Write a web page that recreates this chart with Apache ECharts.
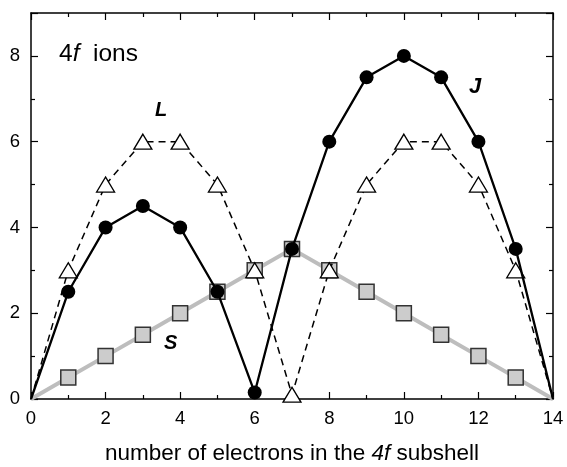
<!DOCTYPE html>
<html><head><meta charset="utf-8">
<script src="https://cdn.jsdelivr.net/npm/echarts@6/dist/echarts.min.js"></script>
<style>html,body{margin:0;padding:0;background:#fff}#c{width:567px;height:467px}</style>
</head><body><div id="c"></div>
<script>
var nElectrons = [0,1,2,3,4,5,6,7,8,9,10,11,12,13,14];
var valuesS = [0,0.5,1,1.5,2,2.5,3,3.5,3,2.5,2,1.5,1,0.5,0];
var valuesL = [0,3,5,6,6,5,3,0.1,3,5,6,6,5,3,0];
var valuesJ = [0,2.5,4,4.5,4,2.5,0.15,3.5,6,7.5,8,7.5,6,3.5,0];
var xTicks = [0,2,4,6,8,10,12,14];
var yTicks = [0,2,4,6,8];

function pts(vals){
  return nElectrons.map(function(x,i){
    var endpoint = (i===0 || i===nElectrons.length-1);
    var d = {value:[x, vals[i]]};
    if (endpoint) d.symbol = 'none';
    return d;
  });
}
var FONT = 'Liberation Sans, Arial, sans-serif';
var chart = echarts.init(document.getElementById('c'), null, {renderer:'canvas'});
var axisLine = {show:true, onZero:false, lineStyle:{color:'#000', width:1.5}};
var tick = {show:true, inside:true, length:7, lineStyle:{color:'#000', width:1.2}};
var minor = {show:true, splitNumber:2, length:4, lineStyle:{color:'#000', width:1.2}};
chart.setOption({
  animation:false,
  grid:{left:31, right:14, top:13, bottom:68, containLabel:false, outerBoundsMode:'none'},
  xAxis:[{
    type:'value', min:0, max:14, interval:2, position:'bottom',
    axisLine:axisLine, axisTick:tick, minorTick:minor, splitLine:{show:false},
    axisLabel:{color:'#000', fontSize:18.5, fontFamily:FONT, margin:10,
      formatter:function(v){return xTicks.indexOf(v)>=0 ? String(v) : '';}},
    name:'number of electrons in the {i|4f} subshell', nameLocation:'middle', nameGap:43,
    nameTextStyle:{color:'#000', fontSize:22.5, fontFamily:FONT,
      rich:{i:{fontStyle:'italic', fontSize:22.5, fontFamily:FONT, color:'#000'}}}
  },{
    type:'value', min:0, max:14, interval:2, position:'top',
    axisLine:axisLine, axisTick:tick, minorTick:minor, splitLine:{show:false}, axisLabel:{show:false}
  }],
  yAxis:[{
    type:'value', min:0, max:9, interval:2, position:'left',
    axisLine:axisLine, axisTick:tick, minorTick:minor, splitLine:{show:false},
    axisLabel:{color:'#000', fontSize:18.5, fontFamily:FONT, margin:11,
      formatter:function(v){return yTicks.indexOf(v)>=0 ? String(v) : '';}}
  },{
    type:'value', min:0, max:9, interval:2, position:'right',
    axisLine:axisLine, axisTick:tick, minorTick:minor, splitLine:{show:false}, axisLabel:{show:false}
  }],
  series:[{
    name:'S', type:'line', data:pts(valuesS), symbol:'rect', symbolSize:15,
    lineStyle:{color:'#bdbdbd', width:4},
    itemStyle:{color:'#cccccc', borderColor:'#333', borderWidth:1.5}, z:2
  },{
    name:'L', type:'line', data:pts(valuesL), symbol:'triangle', symbolSize:[18,15],
    lineStyle:{color:'#000', width:1.5, type:[7,5]},
    itemStyle:{color:'#fff', borderColor:'#000', borderWidth:1.3}, z:3
  },{
    name:'J', type:'line', data:pts(valuesJ), symbol:'circle', symbolSize:14,
    lineStyle:{color:'#000', width:2.3},
    itemStyle:{color:'#000', borderColor:'#000', borderWidth:0}, z:4
  }],
  graphic:[
    {type:'text', left:59, top:42, style:{text:'{n|4}{i|f}{n|  ions}', fill:'#000',
      rich:{n:{fontSize:24.5, fontFamily:FONT, fill:'#000'}, i:{fontSize:24.5, fontFamily:FONT, fontStyle:'italic', fill:'#000'}}}},
    {type:'text', left:155, top:100, style:{text:'L', fontSize:20, fontStyle:'italic', fontWeight:'bold', fontFamily:FONT, fill:'#000'}},
    {type:'text', left:469, top:76, style:{text:'J', fontSize:22, fontStyle:'italic', fontWeight:'bold', fontFamily:FONT, fill:'#000'}},
    {type:'text', left:164, top:333, style:{text:'S', fontSize:20, fontStyle:'italic', fontWeight:'bold', fontFamily:FONT, fill:'#000'}}
  ]
});
</script></body></html>
